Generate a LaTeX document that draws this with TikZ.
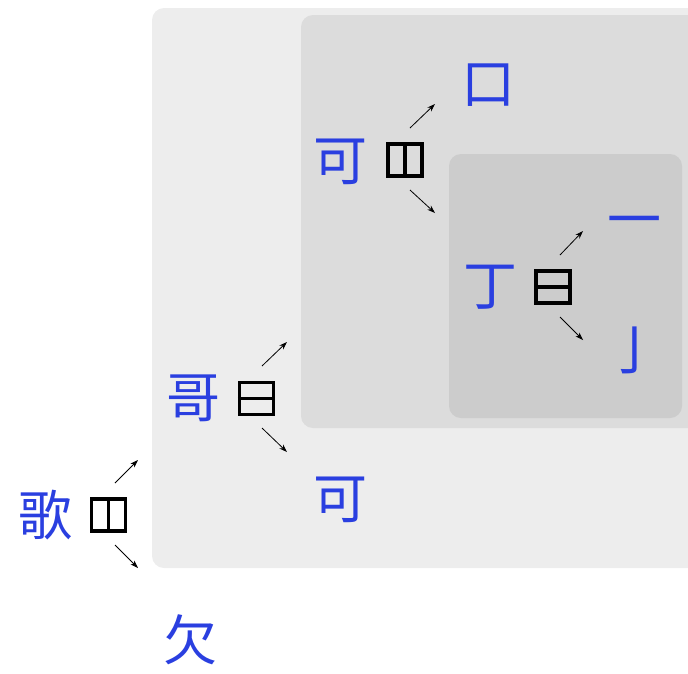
\documentclass[tikz,border=0pt]{standalone}
\usepackage{fontspec}
\newfontfamily\cjk{Noto Sans CJK SC}
\usetikzlibrary{arrows.meta}
\definecolor{charblue}{HTML}{2A3FE0}
\definecolor{boxA}{HTML}{EDEDED}
\definecolor{boxB}{HTML}{DCDCDC}
\definecolor{boxC}{HTML}{CCCCCC}
\tikzset{
  hanzi/.style={font=\cjk\fontsize{54pt}{54pt}\selectfont, text=charblue, inner sep=0pt},
  idcbox/.style={draw=black, line width=3.2pt, minimum width=34pt, minimum height=32pt, inner sep=0pt},
  divider/.style={line width=3.2pt},
  link/.style={-{Stealth[length=8pt,width=5.5pt]}, line width=0.8pt},
  panel/.style={rounded corners=12pt}
}
\begin{document}
\begin{tikzpicture}[x=1pt,y=-1pt]
\useasboundingbox (0,0) rectangle (688,673);
\fill[boxA, panel] (152,8) rectangle (720,568);
\fill[boxB, panel] (301,15) rectangle (720,428);
\fill[boxC, panel] (449,154) rectangle (682,418);
% level 1
\node[hanzi] (ge) at (45,515) {歌};
\node[idcbox] (op1) at (108.5,515) {};
\draw[divider] (op1.north) -- (op1.south);
\node[hanzi] (qian) at (190,640) {欠};
\coordinate (a1s) at (115,483); \coordinate (a1e) at (138,460);
\coordinate (b1s) at (115,545); \coordinate (b1e) at (138,568);
\draw[link] (a1s) -- (a1e);
\draw[link] (b1s) -- (b1e);
% level 2
\node[hanzi] (ge2) at (193,398) {哥};
\node[idcbox] (op2) at (256.5,398.5) {};
\draw[divider] (op2.west) -- (op2.east);
\node[hanzi] (ke1) at (340,500) {可};
\coordinate (a2s) at (262,366); \coordinate (a2e) at (287,342);
\coordinate (b2s) at (262,428); \coordinate (b2e) at (287,452);
\draw[link] (a2s) -- (a2e);
\draw[link] (b2s) -- (b2e);
% level 3
\node[hanzi] (ke2) at (340,162) {可};
\node[idcbox] (op3) at (405,160) {};
\draw[divider] (op3.north) -- (op3.south);
\node[hanzi] (kou) at (488,85) {口};
\coordinate (a3s) at (410,128); \coordinate (a3e) at (435,104);
\coordinate (b3s) at (410,190); \coordinate (b3e) at (435,213);
\draw[link] (a3s) -- (a3e);
\draw[link] (b3s) -- (b3e);
% level 4
\node[hanzi] (ding) at (490,287) {丁};
\node[idcbox] (op4) at (553,287) {};
\draw[divider] (op4.west) -- (op4.east);
\node[hanzi] (yi) at (634,228) {一};
\node[hanzi] (jue) at (634,350) {亅};
\coordinate (a4s) at (560,255); \coordinate (a4e) at (583,231);
\coordinate (b4s) at (560,317); \coordinate (b4e) at (583,340);
\draw[link] (a4s) -- (a4e);
\draw[link] (b4s) -- (b4e);
\end{tikzpicture}
\end{document}
